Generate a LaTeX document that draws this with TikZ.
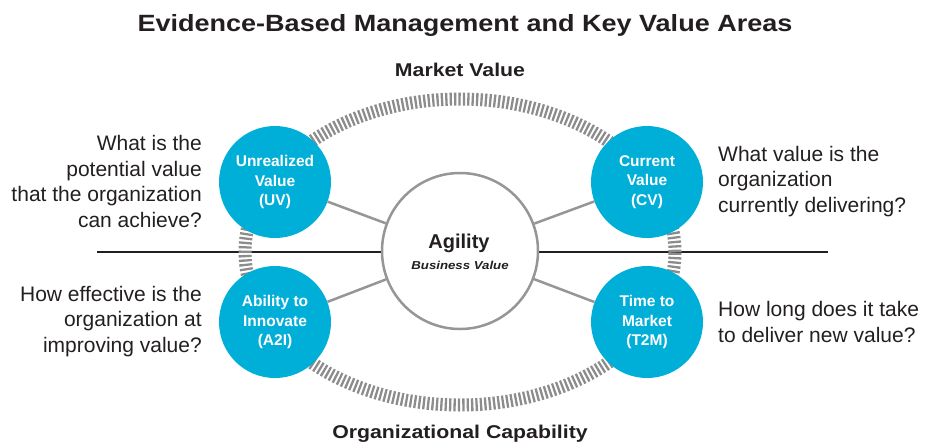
\documentclass[tikz,border=0pt]{standalone}
\usepackage{fontspec}
\setmainfont{Liberation Sans}
\newfontfamily\headfont{Liberation Sans}[FakeStretch=1.15]

\definecolor{evblue}{RGB}{0,175,216}
\definecolor{ringgray}{RGB}{140,140,140}
\definecolor{linegray}{RGB}{150,150,150}
\definecolor{inkblack}{RGB}{35,31,32}

\begin{document}
\begin{tikzpicture}[x=1pt,y=-1pt,
  area/.style={circle,fill=evblue,minimum size=112pt,inner sep=0pt,text=white,
    align=center,font=\fontsize{15.5}{19.5}\selectfont\bfseries},
  question/.style={inner sep=0pt,text=inkblack,font=\fontsize{21}{25.5}\selectfont},
  heading/.style={inner sep=0pt,anchor=base,text=inkblack,font=\headfont\fontsize{18.5}{22}\selectfont\bfseries},
  spoke/.style={linegray,line width=2.5pt}]

\useasboundingbox (0,0) rectangle (931,445);

% titles
\node[heading,font=\headfont\fontsize{23.5}{26}\selectfont\bfseries] (title) at (465,31) {Evidence-Based Management and Key Value Areas};
\node[heading] (market) at (460,76) {Market Value};
\node[heading] (capability) at (460,438) {Organizational Capability};

% divider
\coordinate (west) at (97,252);
\coordinate (east) at (828,252);
\draw[inkblack,line width=2.5pt] (west) -- (east);

% dashed ring
\draw[ringgray,line width=13pt,dash pattern=on 2.3pt off 2.1pt] (460,252) ellipse [x radius=215pt, y radius=153pt];

% centre
\node[circle,draw=linegray,line width=2.5pt,fill=white,minimum size=156pt,inner sep=0pt] (agility) at (460,251) {};
\node[heading,font=\fontsize{20}{22}\selectfont\bfseries] (agilitytxt) at (459,248) {Agility};
\node[heading,font=\headfont\fontsize{11.5}{14}\selectfont\bfseries\itshape] (bizvalue) at (460,269) {Business Value};

% value areas
\node[area] (uv) at (275,182) {Unrealized\\Value\\(UV)};
\node[area] (cv) at (647,182) {Current\\Value\\(CV)};
\node[area] (a2i) at (275,322) {Ability to\\Innovate\\(A2I)};
\node[area] (t2m) at (647,322) {Time to\\Market\\(T2M)};

\draw[spoke] (uv) -- (agility);
\draw[spoke] (cv) -- (agility);
\draw[spoke] (a2i) -- (agility);
\draw[spoke] (t2m) -- (agility);

% questions, placed by the baseline of their last line
\node[question,anchor=base east,align=right] (uvq) at (202,227) {What is the\\potential value\\that the organization\\can achieve?};
\node[question,anchor=base east,align=right] (a2iq) at (202,352) {How effective is the\\organization at\\improving value?};
\node[question,anchor=base west,align=left] (cvq) at (718,212) {What value is the\\organization\\currently delivering?};
\node[question,anchor=base west,align=left] (t2mq) at (718,342) {How long does it take\\to deliver new value?};

\end{tikzpicture}
\end{document}
